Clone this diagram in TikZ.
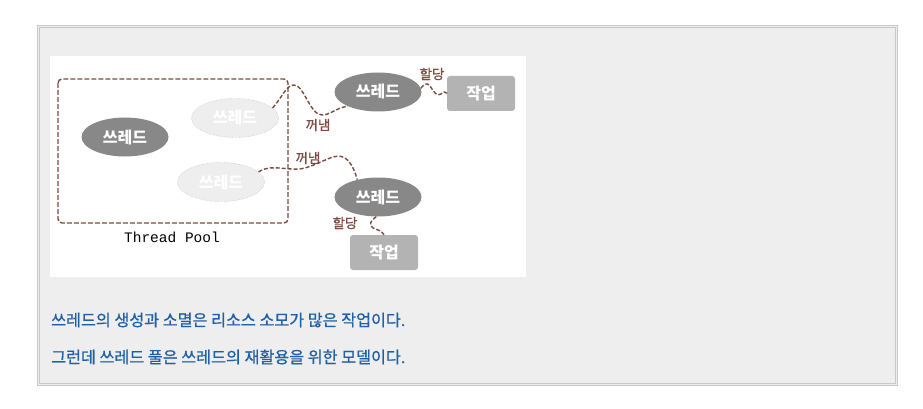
\documentclass[tikz,border=0pt]{standalone}
\usepackage{fontspec}
\setmainfont{Noto Sans CJK KR}
\setmonofont{Liberation Mono}
\newfontfamily\notefont[FakeBold=0.8]{Noto Sans CJK KR}
\usepackage{xcolor}
\definecolor{framegray}{HTML}{C8C8C8}
\definecolor{panel}{HTML}{EEEEEE}
\definecolor{wire}{HTML}{7B4B42}
\definecolor{busygray}{HTML}{888888}
\definecolor{jobgray}{HTML}{B3B3B3}
\definecolor{notetext}{HTML}{1F5FA5}
\tikzset{
  busy/.style={ellipse, fill=busygray, text=white, minimum width=87pt, minimum height=39pt, inner sep=0pt, font=\bfseries\fontsize{16}{17}\selectfont},
  idle/.style={ellipse, fill=panel, draw=black!30, densely dotted, text=white, minimum width=87pt, minimum height=39pt, inner sep=0pt, font=\bfseries\fontsize{16}{17}\selectfont},
  job/.style={rectangle, rounded corners=3pt, fill=jobgray, text=white, minimum width=68pt, minimum height=35pt, inner sep=0pt, font=\bfseries\fontsize{16}{17}\selectfont},
  wave/.style={wire, line width=1.4pt, dash pattern=on 4pt off 2pt},
  tag/.style={text=wire, font=\notefont\fontsize{13.5}{14}\selectfont, inner sep=0pt},
  note/.style={anchor=west, text=notetext, font=\notefont\fontsize{16.2}{17}\selectfont, inner sep=0pt}
}
\usetikzlibrary{shapes.geometric}
\begin{document}
\begin{tikzpicture}[x=1pt,y=-1pt]
        \useasboundingbox[fill=white] (0,0) rectangle (923,409);
        \draw[framegray, fill=panel] (37,25) rectangle (897,385);
        \draw[framegray] (39,27) rectangle (895,383);
        \fill[white] (50,56) rectangle (526,277);

        % the pool
        \draw[wire, line width=1.4pt, dash pattern=on 5pt off 2pt, rounded corners=4pt] (58,79) rectangle (288,223);
        \node[font=\ttfamily\fontsize{14.5}{15}\selectfont] (poolname) at (172,237) {Thread Pool};
        \node[busy] (rest) at (125,137) {쓰레드};
        \node[idle] (idleA) at (235,118) {쓰레드};
        \node[idle] (idleB) at (221,182) {쓰레드};

        % threads taken out
        \node[busy] (busyA) at (378,92) {쓰레드};
        \node[busy] (busyB) at (378,197) {쓰레드};
        \node[job] (jobA) at (481,93.5) {작업};
        \node[job] (jobB) at (384,252.5) {작업};

        \draw[wave] (idleA.15) .. controls (282,98) and (286,85) .. (294,85) .. controls (304,85) and (310,115) .. (322,115) .. controls (330,115) and (336,108) .. (busyA.205);
        \draw[wave] (idleB.15) .. controls (270,163) and (290,172) .. (305,168) .. controls (325,162) and (335,152) .. (345,158) .. controls (352,163) and (355,172) .. (busyB.140);
        \draw[wave] (busyA.5) .. controls (424,84) and (427,82) .. (430,86) .. controls (434,92) and (437,97) .. (441,94) .. controls (443,92) and (445,91) .. (jobA.west);
        \draw[wave] (busyB.265) .. controls (371,220) and (368,225) .. (373,228) .. controls (378,230) and (382,231) .. (jobB.north);

        \node[tag] (outA) at (318,125) {꺼냄};
        \node[tag] (outB) at (308,158) {꺼냄};
        \node[tag] (giveA) at (432,74) {할당};
        \node[tag] (giveB) at (345,223) {할당};

        \node[note] (noteA) at (51,320) {쓰레드의 생성과 소멸은 리소스 소모가 많은 작업이다.};
        \node[note] (noteB) at (51,357) {그런데 쓰레드 풀은 쓰레드의 재활용을 위한 모델이다.};
    \end{tikzpicture}
\end{document}
